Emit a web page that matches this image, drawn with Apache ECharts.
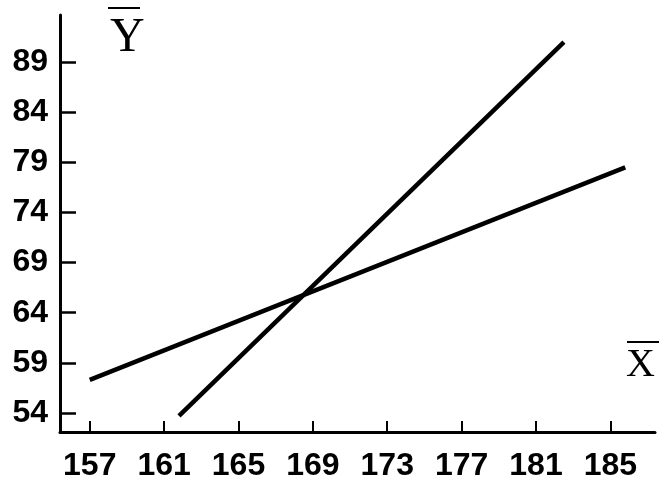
<!DOCTYPE html>
<html>
<head>
<meta charset="utf-8">
<script src="https://cdn.jsdelivr.net/npm/echarts@6/dist/echarts.min.js"></script>
<style>html,body{margin:0;padding:0;background:#fff;}#c{width:667px;height:500px;}</style>
</head>
<body>
<div id="c"></div>
<script>
// Tick labels
const xTicks = [157, 161, 165, 169, 173, 177, 181, 185];
const yTicks = [54, 59, 64, 69, 74, 79, 84, 89];
// Regression line endpoints [x, y]
const lineShallow = [[157.0, 57.3], [185.8, 78.5]];
const lineSteep = [[161.8, 53.7], [182.5, 91.0]];
const xName = 'X';
const yName = 'Y';

const chart = echarts.init(document.getElementById('c'), null, {renderer: 'canvas'});
const labelFont = {
  fontFamily: '"Liberation Sans Narrow", "Arial Narrow", "Liberation Sans", Arial, sans-serif',
  fontWeight: 'bold',
  fontSize: 32,
  color: '#000'
};
const axisLine = {show: true, onZero: false, lineStyle: {color: '#000', width: 3}};
chart.setOption({
  animation: false,
  backgroundColor: '#fff',
  grid: {left: 60, right: 12, top: 15, bottom: 68, containLabel: false},
  xAxis: {
    type: 'value', min: 155.4, max: 187.4,
    axisLine: axisLine,
    axisTick: {show: true, inside: true, length: 11, customValues: xTicks, lineStyle: {color: '#000', width: 2}},
    axisLabel: Object.assign({show: true, margin: 18, customValues: xTicks}, labelFont),
    splitLine: {show: false}
  },
  yAxis: {
    type: 'value', min: 52.1, max: 93.7,
    axisLine: axisLine,
    axisTick: {show: true, inside: true, length: 16, customValues: yTicks, lineStyle: {color: '#000', width: 2.5}},
    axisLabel: Object.assign({show: true, margin: 12, customValues: yTicks}, labelFont),
    splitLine: {show: false}
  },
  series: [
    {type: 'line', data: lineShallow, symbol: 'none', lineStyle: {color: '#000', width: 4.5}},
    {type: 'line', data: lineSteep, symbol: 'none', lineStyle: {color: '#000', width: 4.5}}
  ],
  graphic: [
    {type: 'text', left: 110, top: 14, style: {text: yName, font: '48px "Liberation Serif", "DejaVu Serif", serif', fill: '#000'}},
    {type: 'line', shape: {x1: 108, y1: 8, x2: 140, y2: 8}, style: {stroke: '#000', lineWidth: 2}},
    {type: 'text', left: 626, top: 345, style: {text: xName, font: '40px "Liberation Serif", "DejaVu Serif", serif', fill: '#000'}},
    {type: 'line', shape: {x1: 627, y1: 342, x2: 659, y2: 342}, style: {stroke: '#000', lineWidth: 2}}
  ]
});
</script>
</body>
</html>
